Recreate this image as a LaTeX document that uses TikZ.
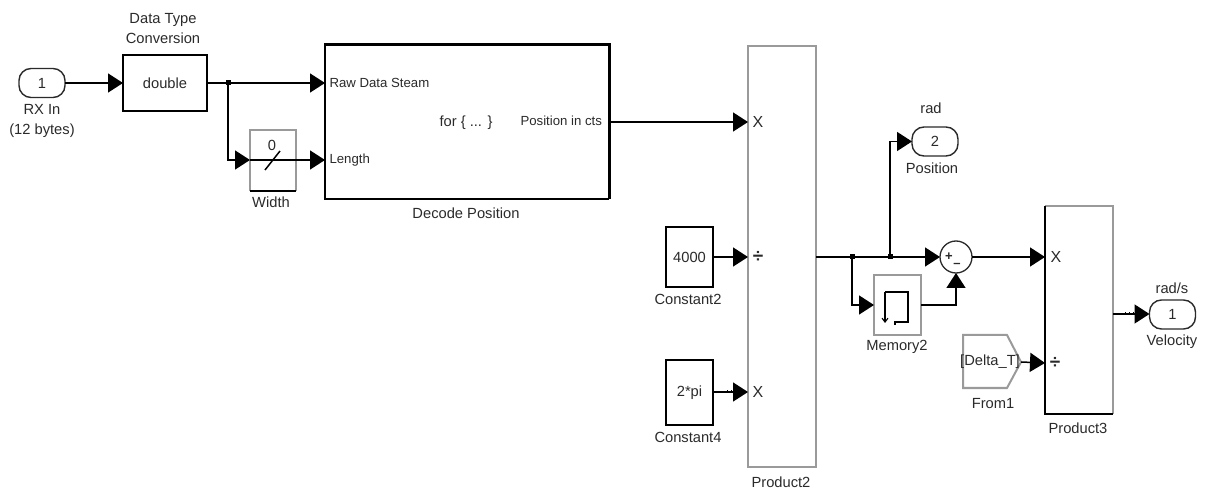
\documentclass[tikz,border=0pt]{standalone}
\usepackage{fontspec}
\setmainfont{Liberation Sans}
\usetikzlibrary{arrows.meta,calc}
\definecolor{ink}{HTML}{2A2A2A}
\definecolor{soft}{HTML}{9A9A9A}
\newcommand{\portfont}{\fontsize{13.2}{15}\selectfont}
\tikzset{
  x=1pt,y=-1pt,
  every node/.style={inner sep=0pt,outer sep=0pt,text=ink,font=\fontsize{14.7}{16}\selectfont},
  conn/.style={line width=1.5pt,draw=black,-{Triangle[length=15pt,width=19pt]}},
  wire/.style={line width=1.5pt,draw=black},
  dotj/.style={fill=black,minimum size=5pt,shape=rectangle},
  blockbox/.style={draw=black,line width=1.5pt,shape=rectangle},
  softbox/.style={draw=soft,line width=2pt,shape=rectangle},
  port/.style={draw=ink,line width=1.4pt,rounded corners=12pt,shape=rectangle,minimum width=46pt,minimum height=29pt},
}
\begin{document}
\begin{tikzpicture}
\useasboundingbox (0,0) rectangle (1208,494);
% blocks
\node[port] (in) at (42,83) {1};
\node (inl) at (42,121) {\begin{tabular}{@{}c@{}}RX In\\[4pt](12 bytes)\end{tabular}};
\node[blockbox,minimum width=84pt,minimum height=56pt] (dtc) at (165,83) {double};
\node (dtcl) at (163,30.5) {\begin{tabular}{@{}c@{}}Data Type\\[4pt]Conversion\end{tabular}};
\node[shape=rectangle,minimum width=46pt,minimum height=61pt] (wd) at (273,160.5) {};
\draw[soft,line width=2pt] (wd.south west) -- (wd.north west) -- (wd.north east) -- (wd.south east);
\draw[black,line width=1.5pt] (wd.south west) -- (wd.south east);
\node (wdv) at (272,145) {0};
\node (wdl) at (271,202) {Width};
\node[shape=rectangle,minimum width=284pt,minimum height=154pt] (dec) at (467,122) {};
\draw[black,line width=1.5pt] (dec.north west) -- (dec.south west) -- (dec.south east);
\draw[black,line width=3pt] (dec.south east) -- (dec.north east) -- ([xshift=-.75pt]dec.north west);
\node[anchor=west,font=\portfont] (decr) at (329.5,83) {Raw Data Steam};
\node[anchor=west,font=\portfont] (decn) at (329.5,160) {Length};
\node (decf) at (466,123) {for \{ ... \}};
\node[anchor=east,font=\portfont] (decp) at (602,121) {Position in cts};
\node (decl) at (466,213) {Decode Position};
\node[softbox,minimum width=68pt,minimum height=421pt] (pa) at (782,256.5) {};
\node (pax) at (758,122) {\fontsize{16}{16}\selectfont X};
\node (pad) at (758,257) {\fontsize{19}{19}\selectfont\bfseries ÷};
\node (pay) at (758,392) {\fontsize{16}{16}\selectfont X};
\node (pal) at (781,482) {Product2};
\node[blockbox,minimum width=47pt,minimum height=60pt] (ca) at (689.5,257) {4000};
\node (cal) at (688,299) {Constant2};
\node[blockbox,minimum width=47pt,minimum height=65pt] (cb) at (689.5,392.5) {2*pi};
\node (cbl) at (688,437) {Constant4};
\node[port] (op) at (935,141.5) {2};
\node (opt) at (931,108) {rad};
\node (opl) at (932,168) {Position};
\node[softbox,minimum width=47pt,minimum height=60pt] (mem) at (897.5,305) {};
\draw[black,line width=1.1pt,-{Straight Barb[length=4pt,width=6pt]}] ([shift={(-12.5,17)}]mem.north) -- ++(0,31);
\draw[black,line width=1.3pt] ([shift={(-12.5,17)}]mem.north) -- ++(23,0) -- ++(0,30) -- ++(-13,0) -- ++(0,3);
\node (meml) at (897,347) {Memory2};
\node[circle,draw=ink,line width=1.3pt,minimum size=32pt] (sum) at (956,257) {};
\node (sump) at (949,257) {\fontsize{13}{13}\selectfont\bfseries +};
\node (summ) at (957,265) {\fontsize{13}{13}\selectfont\bfseries –};
\node[shape=rectangle,minimum width=68pt,minimum height=208pt] (pb) at (1079,310) {};
\draw[soft,line width=2pt] (pb.north west) -- (pb.north east) -- (pb.south east);
\draw[black,line width=1.5pt] (pb.north west) -- (pb.south west) -- (pb.south east);
\node (pbx) at (1056,257) {\fontsize{16}{16}\selectfont X};
\node (pbd) at (1055,363) {\fontsize{19}{19}\selectfont\bfseries ÷};
\node (pbl) at (1078,428) {Product3};
\coordinate (fa) at (963,335);
\coordinate (fb) at (1007,335);
\coordinate (fc) at (1021,362);
\coordinate (fd) at (1007,388);
\coordinate (fe) at (963,388);
\draw[soft,line width=2pt] (fa) -- (fb) -- (fc) -- (fd) -- (fe) -- cycle;
\node (ft) at (990,362) {[Delta\_T]};
\node (fl) at (993,404) {From1};
\node[port] (ov) at (1172.5,314.5) {1};
\node (ovt) at (1172,288) {rad/s};
\node (ovl) at (1172,342) {Velocity};
% junctions
\node[dotj] (ja) at (228,83) {};
\node[dotj] (jb) at (852,257) {};
\node[dotj] (jc) at (890,257) {};
% port coordinates
\coordinate (wdi) at (wd.west |- 0,160);
\coordinate (deci) at (dec.west |- 0,83);
\coordinate (decj) at (dec.west |- 0,160);
\coordinate (dech) at (dec.east |- 0,122);
\coordinate (pai) at (pa.west |- 0,122);
\coordinate (paj) at (pa.west |- 0,257);
\coordinate (pak) at (pa.west |- 0,392);
\coordinate (pae) at (pa.east |- 0,257);
\coordinate (pbi) at (pb.west |- 0,257);
\coordinate (pbj) at (pb.west |- 0,363);
\coordinate (pbe) at (pb.east |- 0,314);
\coordinate (ovi) at (ov.west |- 0,314);
\coordinate (opi) at (op.west);
\coordinate (memi) at (mem.west);
% connectors
\draw[conn] (in.east) -- (dtc.west);
\draw[wire] (dtc.east) -- (ja);
\draw[conn] (ja) -- (deci);
\draw[conn] (ja) |- (wdi);
\draw[conn] (wdi) -- (decj);
\draw[black,line width=1.5pt] (265,170) -- (280,151);
\draw[conn] (dech) -- (pai);
\draw[conn] (ca.east) -- (paj);
\draw[conn] (cb.east |- pak) -- (pak);
\foreach \dx in {14,18,22}{\draw[black,line width=.8pt] ($(cb.east |- pak)+(\dx,0)$) -- ++(0,-2);}
\draw[wire] (pae) -- (jb);
\draw[wire] (jb) -- (jc);
\draw[conn] (jc) -- (sum.west);
\draw[conn] (jc) |- (opi);
\draw[conn] (jb) |- (memi);
\draw[conn] (mem.east) -| (sum.south);
\draw[conn] (sum.east) -- (pbi);
\draw[conn] (fc) -- (pbj);
\draw[conn] (pbe) -- (ovi);
\foreach \dx in {12,16,20}{\draw[black,line width=.8pt] ($(pbe)+(\dx,0)$) -- ++(0,-2);}
\end{tikzpicture}
\end{document}
